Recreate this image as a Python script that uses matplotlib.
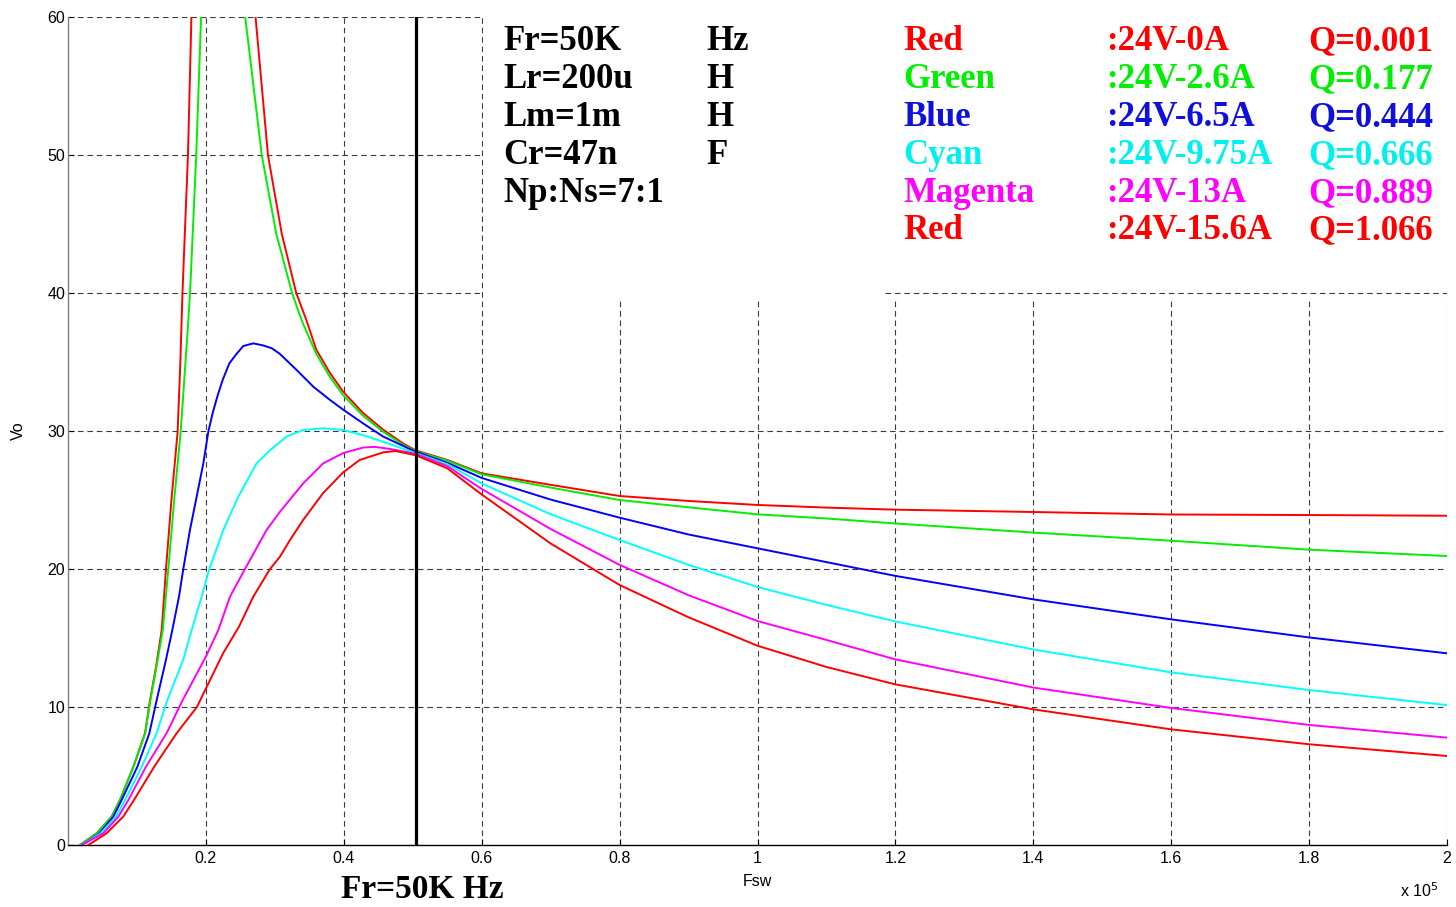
import matplotlib
matplotlib.use('Agg')
import matplotlib.pyplot as plt
from matplotlib.patches import Rectangle

# ---------------- data (frequency in kHz, output voltage Vo in V) ----------------
f_red0 = [1.74, 4.16, 6.33, 7.54, 9.48, 11.17, 11.9, 12.8, 13.59, 14.21, 15.0, 15.9, 16.29, 16.6, 17.4, 17.9, 18.1,
          27.0, 27.2, 29.0, 31.0, 33.1, 34.6, 36.0, 38.0, 39.9, 42.8, 45.7, 48.6, 50.4, 55, 60, 70, 80, 90, 100,
          110, 120, 140, 160, 180, 200]
v_red0 = [0.0, 0.85, 2.05, 3.26, 5.67, 8.1, 10.5, 13.0, 15.58, 20.0, 25.0, 29.95, 34.9, 40.0, 50.0, 60.0, 64,
          64, 60.0, 50.0, 44.3, 40.0, 38.0, 35.9, 34.2, 32.85, 31.3, 30.1, 29.1, 28.6, 27.9, 26.93, 26.1, 25.29,
          24.93, 24.64, 24.45, 24.3, 24.13, 23.95, 23.91, 23.86]

f_green = [1.74, 4.16, 6.33, 7.54, 9.5, 11.2, 11.95, 12.9, 13.75, 14.55, 15.4, 16.34, 17.36, 17.7, 18.6, 19.3, 19.5,
           25.5, 25.7, 28.1, 30.2, 32.5, 33.9, 36.0, 38.0, 39.9, 42.8, 45.7, 48.6, 50.4, 55, 60, 70, 80, 90, 100,
           110, 120, 140, 160, 180, 200]
v_green = [0.0, 0.85, 2.05, 3.26, 5.67, 8.1, 10.5, 13.1, 15.58, 20.0, 25.0, 29.95, 37.3, 40.0, 50.0, 60.0, 64,
           64, 60.0, 50.0, 44.3, 40.0, 38.0, 35.6, 33.9, 32.6, 31.1, 29.95, 29.0, 28.55, 27.85, 26.86, 25.9, 25.0,
           24.47, 23.96, 23.66, 23.3, 22.64, 22.05, 21.4, 20.94]

f_blue = [2.0, 4.55, 6.57, 7.78, 10.06, 11.8, 12.86, 14.2, 15.13, 16.1, 16.72, 17.69, 18.66, 19.63, 20.35, 20.98,
          21.66, 22.43, 23.4, 24.46, 25.43, 26.88, 28.3, 29.54, 30.7, 33.2, 35.6, 38.0, 39.9, 42.8, 45.7, 50.4,
          55, 60, 70, 80, 90, 100, 110, 120, 140, 160, 180, 200]
v_blue = [0.0, 0.85, 2.05, 3.26, 5.67, 8.1, 10.5, 13.4, 15.58, 18.0, 20.0, 22.83, 25.24, 27.66, 29.95, 31.3,
          32.5, 33.7, 34.9, 35.6, 36.16, 36.35, 36.2, 36.0, 35.6, 34.4, 33.2, 32.25, 31.55, 30.55, 29.6, 28.5,
          27.7, 26.6, 25.03, 23.72, 22.5, 21.5, 20.5, 19.5, 17.8, 16.35, 15.04, 13.89]

f_cyan = [2.0, 4.74, 6.96, 8.27, 10.7, 12.86, 14.4, 16.7, 17.93, 19.39, 20.5, 22.53, 24.7, 27.36, 29.3, 30.75,
          31.7, 34.1, 37.0, 39.9, 42.8, 46.7, 50.4, 55, 60, 70, 80, 90, 100, 110, 120, 140, 160, 180, 200]
v_cyan = [0.0, 0.85, 2.05, 3.26, 5.67, 8.1, 10.5, 13.4, 15.58, 18.0, 20.0, 22.83, 25.24, 27.66, 28.6, 29.2,
          29.6, 30.07, 30.2, 30.07, 29.7, 29.05, 28.4, 27.6, 26.2, 23.97, 22.1, 20.3, 18.7, 17.4, 16.2, 14.17,
          12.51, 11.23, 10.14]

f_magenta = [2.0, 5.12, 7.3, 8.75, 11.3, 14.3, 16.63, 20.0, 21.8, 23.5, 25.67, 28.8, 30.75, 34.1, 37.0,
             39.9, 42.8, 44.5, 46.7, 50.4, 55, 60, 70, 80, 90, 100, 110, 120, 140, 160, 180, 200]
v_magenta = [0.0, 0.85, 2.05, 3.26, 5.67, 8.1, 10.5, 13.65, 15.58, 18.0, 20.0, 22.83, 24.15, 26.2, 27.65,
             28.4, 28.8, 28.85, 28.7, 28.35, 27.46, 25.8, 22.9, 20.3, 18.1, 16.23, 14.86, 13.45, 11.41, 9.93,
             8.7, 7.78]

f_red1 = [2.95, 5.6, 8.0, 9.57, 12.5, 15.76, 18.7, 22.5, 24.8, 26.88, 29.3, 30.75, 32.2, 34.1, 37.0, 39.9,
          42.3, 45.7, 47.5, 50.4, 55, 60, 70, 80, 90, 100, 110, 120, 140, 160, 180, 200]
v_red1 = [0.0, 0.85, 2.05, 3.26, 5.67, 8.1, 10.0, 13.9, 15.82, 18.0, 20.0, 20.9, 22.1, 23.55, 25.5, 27.0,
          27.9, 28.45, 28.55, 28.25, 27.3, 25.4, 21.85, 18.84, 16.5, 14.44, 12.9, 11.64, 9.83, 8.38, 7.3, 6.45]

fr_line_khz = 50.4

legend_names = ["Red", "Green", "Blue", "Cyan", "Magenta", "Red"]
legend_loads = [":24V-0A", ":24V-2.6A", ":24V-6.5A", ":24V-9.75A", ":24V-13A", ":24V-15.6A"]
legend_q = ["Q=0.001", "Q=0.177", "Q=0.444", "Q=0.666", "Q=0.889", "Q=1.066"]
colors = ["#ff0000", "#00ee00", "#0000ff", "#00ffff", "#ff00ff", "#ff0000"]
text_colors = ["#ff0000", "#00ee00", "#1010dd", "#00f0f0", "#ff00ff", "#ff0000"]

param_names = ["Fr=50K", "Lr=200u", "Lm=1m", "Cr=47n", "Np:Ns=7:1"]
param_units = ["Hz", "H", "H", "F", ""]

xticks = [0.2, 0.4, 0.6, 0.8, 1.0, 1.2, 1.4, 1.6, 1.8, 2.0]
xtick_labels = ["0.2", "0.4", "0.6", "0.8", "1", "1.2", "1.4", "1.6", "1.8", "2"]
yticks = [0, 10, 20, 30, 40, 50, 60]

# ---------------- figure ----------------
W, H = 1456, 907
fig = plt.figure(figsize=(W / 100, H / 100), dpi=100)
ax = fig.add_axes([68 / W, 1 - 845 / H, (1447 - 68) / W, (845 - 17) / H])

ax.set_xlim(0, 2e5)
ax.set_ylim(0, 60)

series = [(f_red0, v_red0), (f_green, v_green), (f_blue, v_blue),
          (f_cyan, v_cyan), (f_magenta, v_magenta), (f_red1, v_red1)]
for (fs, vs), c in zip(series, colors):
    ax.plot([f * 1e3 for f in fs], vs, color=c, lw=1.4, zorder=3, solid_joinstyle='round')

ax.axvline(fr_line_khz * 1e3, color='black', lw=2.3, zorder=4)

# grid
ax.set_axisbelow(True)
grid_style = dict(color='#3a3a3a', lw=0.8, linestyle=(0, (5, 3.5)))
ax.grid(True, **grid_style)

# white boxes behind annotation text (hide grid)
ax.add_patch(Rectangle((60.25e3, 39.55), 118.5e3 - 60.25e3, 21.0, facecolor='white', edgecolor='none',
                       zorder=1.5, clip_on=False))
ax.add_patch(Rectangle((118.5e3, 39.55), 200e3 - 118.5e3 + 1.5e3, 21.0, facecolor='white', edgecolor='none',
                       zorder=1.5, clip_on=False))
ax.plot([118.5e3, 200e3], [40, 40], zorder=1.6, **grid_style)

# spines / ticks
for s in ['top', 'right']:
    ax.spines[s].set_visible(False)
ax.spines['left'].set_color('#808080')
ax.spines['left'].set_linewidth(1.0)
ax.spines['bottom'].set_color('black')
ax.spines['bottom'].set_linewidth(1.0)

sans = 'Liberation Sans'
tick_fs = 11.5
ax.set_xticks([t * 1e5 for t in xticks])
ax.set_xticklabels(xtick_labels)
ax.set_yticks(yticks)
ax.tick_params(direction='in', length=4, width=0.8, labelsize=tick_fs, pad=4)
ax.tick_params(axis='y', pad=2)
for lab in ax.get_xticklabels() + ax.get_yticklabels():
    lab.set_fontfamily(sans)

fig.text(757 / W, 1 - 882 / H, 'Fsw', ha='center', va='center', fontsize=tick_fs, family=sans)
fig.text(18 / W, 1 - 431 / H, 'Vo', ha='center', va='center', rotation=90, fontsize=tick_fs, family=sans)
fig.text(1400 / W, 1 - 891 / H, r'x 10$^{5}$', ha='left', va='center', fontsize=tick_fs, family=sans)

serif = 'Liberation Serif'
fs_big = 25
fig.text(422 / W, 1 - 898 / H, 'Fr=50K Hz', ha='center', va='baseline', fontsize=24,
         family=serif, weight='bold')

row_base = [50, 88, 126, 164, 202, 239]
for i, (n, u) in enumerate(zip(param_names, param_units)):
    y = 1 - row_base[i] / H
    fig.text(503 / W, y, n, ha='left', va='baseline', fontsize=fs_big, family=serif, weight='bold', color='black')
    if u:
        fig.text(706 / W, y, u, ha='left', va='baseline', fontsize=fs_big, family=serif, weight='bold',
                 color='black')

for i in range(6):
    y = 1 - row_base[i] / H
    c = text_colors[i]
    fig.text(903 / W, y, legend_names[i], ha='left', va='baseline', fontsize=fs_big, family=serif,
             weight='bold', color=c)
    fig.text(1106 / W, y, legend_loads[i], ha='left', va='baseline', fontsize=fs_big, family=serif,
             weight='bold', color=c)
    fig.text(1308 / W, y, legend_q[i], ha='left', va='baseline', fontsize=fs_big, family=serif,
             weight='bold', color=c)

fig.savefig('out.png', dpi=100, facecolor='white')
